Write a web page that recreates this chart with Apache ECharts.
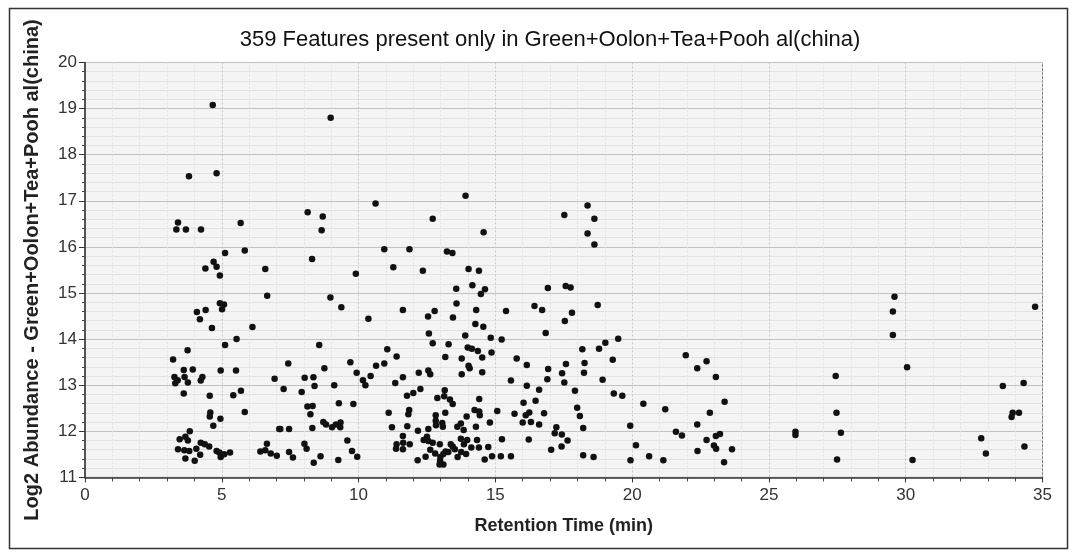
<!DOCTYPE html>
<html><head><meta charset="utf-8">
<script src="https://cdn.jsdelivr.net/npm/echarts@6/dist/echarts.min.js"></script>
<style>html,body{margin:0;padding:0;background:#fff}#c{width:1072px;height:553px}</style>
</head><body><div id="c"></div>
<script>
const chartTitle = '359 Features present only in Green+Oolon+Tea+Pooh al(china)';
const xAxisName = 'Retention Time (min)';
const yAxisName = 'Log2 Abundance - Green+Oolon+Tea+Pooh al(china)';
const xTicks = [0, 5, 10, 15, 20, 25, 30, 35];
const yTicks = [11, 12, 13, 14, 15, 16, 17, 18, 19, 20];
// [retention time (min), log2 abundance]
const features = [
[4.67,19.08],[3.80,17.53],[4.81,17.60],[3.40,16.53],[3.34,16.38],[3.69,16.38],[4.24,16.38],[5.69,16.52],[5.12,15.87],[5.84,15.92],
[4.70,15.68],[4.81,15.57],[4.40,15.53],[4.93,15.38],[6.59,15.52],[6.66,14.94],[4.93,14.78],[5.08,14.75],[5.01,14.65],[4.09,14.59],[4.41,14.63],[4.20,14.43],[4.64,14.24],[6.12,14.26],[5.54,14.00],[5.12,13.87],[3.75,13.76],[3.22,13.56],[3.61,13.33],[3.94,13.34],[4.96,13.32],[5.52,13.32],[3.27,13.18],[3.39,13.11],[3.30,13.04],[3.64,13.18],[3.76,13.06],[4.29,13.18],[4.23,13.10],[6.93,13.14],[3.61,12.82],[4.56,12.77],[5.42,12.78],[5.70,12.88],[4.58,12.41],[4.56,12.32],[4.95,12.27],[5.84,12.42],[4.69,12.12],[7.10,12.05],[3.83,12.00],[3.46,11.83],[3.67,11.88],[3.76,11.80],[4.23,11.75],[4.38,11.72],[4.54,11.67],[3.40,11.61],[3.63,11.59],[3.81,11.57],[4.07,11.62],[3.67,11.41],[4.01,11.36],[4.21,11.49],[4.81,11.57],[4.91,11.54],[4.96,11.44],[5.09,11.50],[5.30,11.54],[6.41,11.56],[6.59,11.59],[6.65,11.73],[6.79,11.52],[7.01,11.47],
[8.98,18.80],[8.14,16.75],[8.69,16.66],[8.65,16.36],[8.30,15.74],[10.62,16.94],[10.94,15.95],[11.86,15.95],[13.23,15.90],[13.43,15.87],[12.71,16.61],[13.91,17.11],
[9.90,15.42],[11.27,15.56],[12.35,15.48],[14.02,15.52],[13.57,15.09],[13.58,14.77],[13.45,14.47],[8.97,14.90],[9.37,14.69],[11.62,14.63],[12.78,14.61],[12.54,14.49],[10.36,14.44],[12.57,14.12],[12.71,13.91],[13.29,13.89],[13.90,14.08],[8.56,13.87],[11.05,13.78],[11.39,13.62],[13.17,13.61],[13.77,13.58],[14.02,13.42],[7.43,13.47],[8.75,13.37],[9.70,13.50],[10.64,13.42],[10.94,13.47],[9.93,13.27],[8.03,13.16],[8.35,13.17],[8.39,12.98],[7.26,12.92],[7.92,12.85],[9.11,13.00],[10.16,13.11],[10.25,13.00],[10.44,13.20],[11.62,13.17],[11.34,13.05],[12.20,13.27],[12.55,13.32],[12.62,13.24],[13.77,13.24],[11.77,12.77],[12.00,12.83],[12.26,12.92],[12.88,12.72],[13.15,12.89],[13.13,12.76],[13.34,12.69],[13.44,12.59],[8.13,12.54],[8.32,12.55],[8.24,12.37],[9.28,12.61],[9.81,12.59],[11.10,12.40],[11.85,12.46],[11.82,12.37],[13.17,12.40],[12.82,12.35],[13.95,12.32],[7.14,12.05],[7.46,12.05],[8.31,12.07],[8.71,12.20],[8.81,12.15],[9.03,12.09],[9.17,12.15],[9.33,12.09],[9.34,12.19],[11.22,12.09],[11.78,12.11],[12.17,12.01],[12.55,12.05],[12.82,12.23],[12.83,12.13],[13.06,12.18],[13.08,12.10],[13.61,12.10],[13.74,12.17],[13.84,12.03],[8.02,11.73],[8.10,11.62],[9.59,11.80],[7.46,11.55],[7.60,11.43],[8.36,11.32],[8.61,11.46],[9.26,11.38],[9.76,11.57],[9.95,11.45],[11.39,11.72],[11.37,11.62],[11.63,11.75],[11.62,11.61],[11.62,11.90],[11.87,11.72],[12.16,11.37],[12.38,11.81],[12.50,11.88],[12.55,11.79],[12.71,11.75],[12.62,11.60],[12.80,11.52],[12.45,11.45],[12.97,11.72],[12.99,11.44],[12.98,11.36],[12.96,11.28],[13.10,11.28],[13.10,11.51],[13.18,11.56],[13.28,11.55],[13.37,11.72],[13.44,11.67],[13.52,11.61],[13.62,11.44],[13.74,11.84],[13.75,11.55],[13.85,11.72],[13.93,11.51],
[14.57,16.32],[18.37,16.90],[17.52,16.69],[18.62,16.61],[18.37,16.29],[18.62,16.05],
[14.40,15.48],[14.16,15.17],[14.62,15.08],[14.47,14.98],[16.92,15.11],[17.57,15.15],[17.75,15.12],[18.74,14.74],[14.30,14.63],[15.39,14.61],[16.43,14.72],[16.71,14.63],[17.80,14.57],[17.54,14.39],[14.27,14.33],[14.56,14.27],[14.83,14.03],[15.23,13.99],[16.84,14.13],[19.49,14.01],[13.99,13.82],[14.14,13.79],[14.36,13.74],[14.86,13.71],[14.52,13.60],[18.18,13.78],[18.79,13.79],[19.02,13.92],[15.78,13.58],[19.29,13.55],[16.15,13.44],[17.58,13.46],[18.26,13.48],[14.06,13.37],[14.52,13.28],[16.93,13.35],[17.44,13.26],[18.24,13.27],[16.90,13.13],[17.52,13.06],[18.92,13.12],[15.57,13.10],[16.15,12.99],[16.60,12.90],[17.91,12.88],[19.33,12.82],[19.64,12.77],[20.41,12.60],[14.41,12.70],[16.03,12.62],[16.47,12.66],[14.24,12.46],[14.41,12.43],[14.43,12.35],[15.07,12.44],[15.70,12.38],[16.11,12.35],[16.24,12.41],[16.78,12.39],[17.99,12.51],[18.09,12.33],[14.29,12.10],[14.80,12.19],[16.00,12.19],[16.30,12.20],[16.60,12.15],[18.21,12.07],[17.23,12.09],[17.17,11.96],[17.43,11.93],[17.64,11.80],[17.42,11.67],[17.04,11.60],[19.93,12.12],[20.14,11.70],[19.94,11.37],[20.62,11.46],[18.21,11.48],[18.59,11.44],[16.22,11.82],[15.24,11.83],[13.97,11.81],[14.33,11.81],[14.12,11.65],[14.40,11.65],[14.74,11.66],[14.61,11.39],[14.88,11.46],[15.20,11.46],[15.57,11.46],
[21.96,13.65],[22.72,13.52],[22.38,13.37],[23.06,13.18],[23.38,12.64],[21.21,12.48],[22.84,12.40],[22.38,12.15],[21.60,11.99],[21.82,11.91],[23.06,11.90],[23.21,11.94],[22.72,11.81],[22.99,11.69],[23.07,11.62],[22.39,11.57],[23.65,11.61],[21.14,11.37],[23.36,11.33],[25.97,11.99],[25.97,11.92],[27.44,13.20],[27.47,12.40],[27.63,11.97],[27.49,11.39],
[29.59,14.92],[29.53,14.60],[29.53,14.09],[30.05,13.39],[30.25,11.38],[34.73,14.70],[33.55,12.98],[34.31,13.05],[33.91,12.40],[33.87,12.31],[34.14,12.40],[32.76,11.85],[32.93,11.52],[34.34,11.67]
];

const chart = echarts.init(document.getElementById('c'), null, {renderer: 'canvas'});
const FONT = 'Liberation Sans, Arial, sans-serif';
chart.setOption({
  animation: false,
  backgroundColor: '#ffffff',
  title: {
    text: chartTitle, left: 545, top: 24, textAlign: 'center',
    textStyle: {fontFamily: FONT, fontSize: 22, fontWeight: 'normal', color: '#111'}
  },
  graphic: [{
    type: 'rect', left: 7, top: 6, z: -1,
    shape: {width: 1058, height: 540},
    style: {fill: 'none', stroke: '#333', lineWidth: 1.5}
  }],
  grid: {
    left: 85, right: 29.5, top: 62.5, bottom: 75.6,
    show: true, backgroundColor: '#f4f4f4', borderColor: '#777', borderWidth: 1
  },
  xAxis: {
    type: 'value', min: xTicks[0], max: xTicks[xTicks.length - 1], interval: 5,
    name: xAxisName, nameLocation: 'middle', nameGap: 40,
    nameTextStyle: {fontFamily: FONT, fontSize: 18, fontWeight: 'bold', color: '#222'},
    axisLine: {show: true, onZero: false, lineStyle: {color: '#333', width: 1.5}},
    axisTick: {show: true, length: 5, lineStyle: {color: '#333'}},
    minorTick: {show: true, splitNumber: 5, length: 4, lineStyle: {color: '#444'}},
    axisLabel: {fontFamily: FONT, fontSize: 17, color: '#333', margin: 9},
    splitLine: {show: true, lineStyle: {color: '#c6c6c6', type: [2, 2]}},
    minorSplitLine: {show: true, lineStyle: {color: '#e0e0e0', type: [2, 2]}}
  },
  yAxis: {
    type: 'value', min: yTicks[0], max: yTicks[yTicks.length - 1], interval: 1,
    name: yAxisName, nameLocation: 'middle', nameGap: 43,
    nameTextStyle: {fontFamily: FONT, fontSize: 20, fontWeight: 'bold', color: '#222'},
    axisLine: {show: true, onZero: false, lineStyle: {color: '#333', width: 1.5}},
    axisTick: {show: true, length: 6, lineStyle: {color: '#333'}},
    minorTick: {show: true, splitNumber: 5, length: 3, lineStyle: {color: '#444'}},
    axisLabel: {fontFamily: FONT, fontSize: 17, color: '#333', margin: 8},
    splitLine: {show: true, lineStyle: {color: '#c2c2c2'}},
    minorSplitLine: {show: true, lineStyle: {color: '#e2e2e2'}}
  },
  series: [{
    type: 'scatter', data: features, symbol: 'circle', symbolSize: 6.5,
    itemStyle: {color: '#111', opacity: 1}
  }]
});
</script></body></html>
